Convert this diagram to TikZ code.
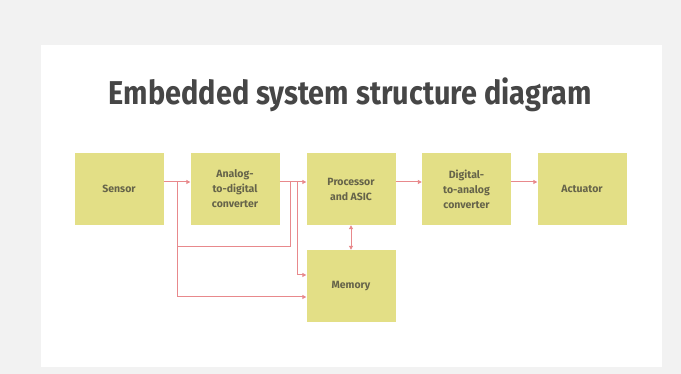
\documentclass[tikz,border=0pt]{standalone}
\usepackage{fontspec}
\setmainfont{Fira Sans}
\usetikzlibrary{arrows.meta,calc}
\definecolor{bggrey}{HTML}{F2F2F2}
\definecolor{boxfill}{HTML}{E3DF86}
\definecolor{boxtext}{HTML}{66644A}
\definecolor{wire}{HTML}{E8898C}
\definecolor{titlegrey}{HTML}{464646}
\begin{document}
\begin{tikzpicture}[x=1pt,y=1pt,
  blockbox/.style={fill=boxfill,draw=none,minimum width=89pt,minimum height=72pt,
    inner sep=0pt,align=center,text=boxtext,font=\fontsize{10.5}{15}\selectfont\bfseries},
  wireline/.style={draw=wire,line width=1pt},
  wirearrow/.style={wireline,-{Triangle[length=4pt,width=4pt]}},
  wiredouble/.style={wireline,{Triangle[length=4pt,width=4pt]}-{Triangle[length=4pt,width=4pt]}}]
\useasboundingbox (0,0) rectangle (681,374);
\fill[bggrey] (0,0) rectangle (681,374);
\fill[white] (41,7) rectangle (662,329);
\node[anchor=base,text=titlegrey,inner sep=0pt] (title) at (350.5,269)
  {\resizebox{483pt}{\height}{\fontsize{33}{33}\selectfont\bfseries Embedded system structure diagram}};
\node[blockbox] (sensor) at (119,185) {Sensor};
\node[blockbox] (adc) at (235,185) {Analog-\\to-digital\\converter};
\node[blockbox] (proc) at (351,185) {Processor\\and ASIC};
\node[blockbox] (dac) at (466.5,185) {Digital-\\to-analog\\converter};
\node[blockbox] (act) at (582,185) {Actuator};
\node[blockbox] (mem) at (351,88) {Memory};
% branch coordinates
\coordinate (s1) at (177,192);
\coordinate (s2) at (177,127);
\coordinate (s3) at (177,77);
\coordinate (j1) at (290,127);
\coordinate (j2) at (290,192);
\coordinate (a1) at (297,192);
\coordinate (a2) at (297,99);
\draw[wirearrow] (sensor.east |- s1) -- (adc.west |- s1);
\draw[wireline] (s1) -- (s3);
\draw[wirearrow] (s3) -- (mem.west |- s3);
\draw[wireline] (s2) -- (j1) -- (j2);
\draw[wirearrow] (adc.east |- a1) -- (proc.west |- a1);
\draw[wireline] (a1) -- (a2);
\draw[wirearrow] (a2) -- (mem.west |- a2);
\draw[wiredouble] (proc.south) -- (mem.north);
\draw[wirearrow] (proc.east |- a1) -- (dac.west |- a1);
\draw[wirearrow] (dac.east |- a1) -- (act.west |- a1);
\end{tikzpicture}
\end{document}
